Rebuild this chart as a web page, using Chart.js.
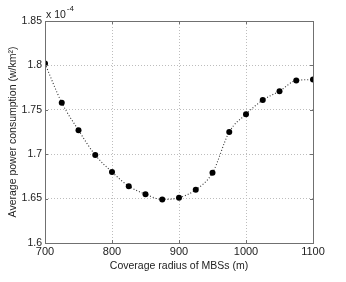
<!DOCTYPE html>
<html>
<head>
<meta charset="utf-8">
<script src="https://cdn.jsdelivr.net/npm/chart.js@4/dist/chart.umd.min.js"></script>
<style>
  html, body { margin: 0; padding: 0; background: #fff; }
  #wrap { width: 346px; height: 282px; }
</style>
</head>
<body>
<div id="wrap"><canvas id="powerChart" width="346" height="282"></canvas></div>
<script>
// coverage radius (m) and average power consumption (x 1e-4 w/km^2)
const radius = [700, 725, 750, 775, 800, 825, 850, 875, 900, 925, 950, 975, 1000, 1025, 1050, 1075, 1100];
const power = [1.802, 1.758, 1.727, 1.699, 1.680, 1.664, 1.655, 1.649, 1.651, 1.660, 1.679, 1.725, 1.745, 1.761, 1.771, 1.783, 1.784];
const xTicks = [700, 800, 900, 1000, 1100];
const yTicks = [1.6, 1.65, 1.7, 1.75, 1.8, 1.85];
const exponentLabel = ['x 10', '-4'];

const FONT = 'Liberation Sans, Arial, Helvetica, sans-serif';
const AXIS_COLOR = '#707070';

// box round the plot, inward tick marks and the exponent label
const matlabFrame = {
    id: 'matlabFrame',
    afterDraw(chart) {
        const { ctx, chartArea: a, scales } = chart;
        ctx.save();
        ctx.strokeStyle = AXIS_COLOR;
        ctx.lineWidth = 1;
        ctx.strokeRect(a.left + 0.5, a.top + 0.5, a.right - a.left, a.bottom - a.top);
        ctx.beginPath();
        xTicks.forEach(v => {
            const x = Math.round(scales.x.getPixelForValue(v)) + 0.5;
            ctx.moveTo(x, a.bottom); ctx.lineTo(x, a.bottom - 3);
            ctx.moveTo(x, a.top); ctx.lineTo(x, a.top + 3);
        });
        yTicks.forEach(v => {
            const y = Math.round(scales.y.getPixelForValue(v)) + 0.5;
            ctx.moveTo(a.left, y); ctx.lineTo(a.left + 3, y);
            ctx.moveTo(a.right, y); ctx.lineTo(a.right - 3, y);
        });
        ctx.stroke();

        ctx.fillStyle = '#222';
        ctx.textBaseline = 'alphabetic';
        ctx.font = '10.5px ' + FONT;
        ctx.fillText(exponentLabel[0], a.left + 1, a.top - 3);
        const w = ctx.measureText(exponentLabel[0]).width;
        ctx.font = '8px ' + FONT;
        ctx.fillText(exponentLabel[1], a.left + 1 + w + 1, a.top - 10);
        ctx.restore();
    }
};

new Chart(document.getElementById('powerChart').getContext('2d'), {
    type: 'line',
    data: {
        labels: radius,
        datasets: [{
            data: radius.map((r, i) => ({ x: r, y: power[i] })),
            borderColor: '#333',
            borderWidth: 1.1,
            borderDash: [1, 2],
            tension: 0.4,
            cubicInterpolationMode: 'monotone',
            pointRadius: 3,
            pointBackgroundColor: '#000',
            pointBorderColor: '#000',
            pointBorderWidth: 0,
            fill: false
        }]
    },
    options: {
        responsive: false,
        animation: false,
        layout: { padding: { top: 21, right: 33, left: 0, bottom: 0 } },
        plugins: { legend: { display: false }, tooltip: { enabled: false } },
        scales: {
            x: {
                type: 'linear',
                min: 700,
                max: 1100,
                afterBuildTicks: s => { s.ticks = xTicks.map(v => ({ value: v })); },
                afterFit: s => { s.height = 39; },
                ticks: { color: '#222', font: { family: FONT, size: 11 }, padding: 2, maxRotation: 0, callback: v => String(v) },
                grid: { color: '#bdbdbd', drawTicks: false },
                border: { display: false, dash: [1, 2] },
                title: {
                    display: true,
                    text: 'Coverage radius of MBSs (m)',
                    color: '#222',
                    font: { family: FONT, size: 10.5 },
                    padding: { top: 0, bottom: 10 }
                }
            },
            y: {
                min: 1.6,
                max: 1.85,
                afterBuildTicks: s => { s.ticks = yTicks.map(v => ({ value: v })); },
                afterFit: s => { s.width = 45; },
                ticks: { color: '#222', font: { family: FONT, size: 10.5 }, padding: 3, callback: v => String(v) },
                grid: { color: '#bdbdbd', drawTicks: false },
                border: { display: false, dash: [1, 2] },
                title: {
                    display: true,
                    text: 'Average power consumption (w/km²)',
                    color: '#222',
                    font: { family: FONT, size: 10.5 },
                    padding: { top: 7, bottom: 0 }
                }
            }
        }
    },
    plugins: [matlabFrame]
});
</script>
</body>
</html>
